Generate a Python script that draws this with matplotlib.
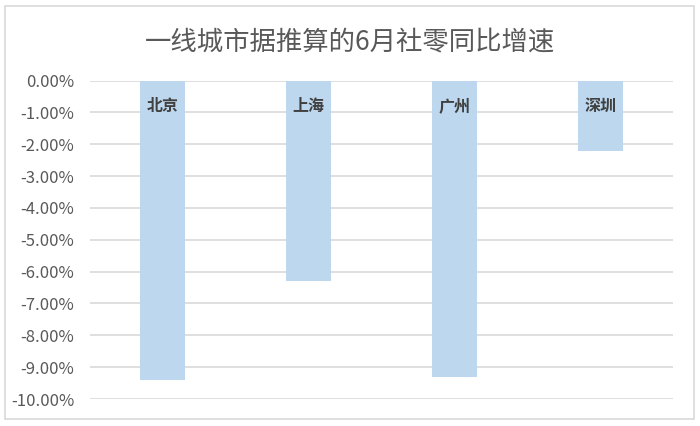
import matplotlib
matplotlib.use("Agg")
import matplotlib.pyplot as plt
from matplotlib.patches import Rectangle
from matplotlib.ticker import FuncFormatter, MultipleLocator

plt.rcParams["font.family"] = ["Noto Sans CJK SC", "DejaVu Sans"]
plt.rcParams["axes.unicode_minus"] = False

cities = ["北京", "上海", "广州", "深圳"]
growth = [-9.40, -6.30, -9.30, -2.20]  # 6月社零同比增速, %

BAR, GRID, TXT = "#BDD7EE", "#D9D9D9", "#595959"

fig = plt.figure(figsize=(7.0, 4.26), dpi=100)
ax = fig.add_axes([90 / 700, 1 - 399 / 426, (673 - 90) / 700, (399 - 80.5) / 426])

x = list(range(len(cities)))
ax.bar(x, growth, width=0.31, color=BAR, zorder=2)
for i, name in enumerate(cities):
    ax.text(i, -0.8, name, ha="center", va="center", fontsize=11.5,
            fontweight="bold", color="#404040", zorder=3)

ax.set_xlim(-0.5, len(cities) - 0.5)
ax.set_ylim(-10, 0)
ax.yaxis.set_major_locator(MultipleLocator(1))
ax.yaxis.set_major_formatter(FuncFormatter(lambda v, p: f"{v:.2f}%"))
ax.set_xticks([])
ax.grid(axis="y", color=GRID, linewidth=1.2, zorder=0)
ax.tick_params(axis="y", length=0, pad=11.5, labelsize=12, labelcolor=TXT)
for s in ax.spines.values():
    s.set_visible(False)

fig.text(0.5, 1 - 42 / 426, "一线城市据推算的6月社零同比增速", ha="center", va="center",
         fontsize=19, color=TXT)

fig.patches.append(Rectangle((5 / 700, 1 - 419 / 426), 689 / 700, 413 / 426,
                             transform=fig.transFigure, fill=False,
                             edgecolor=GRID, linewidth=1.2))

fig.savefig("out.png", dpi=100, facecolor="white")
